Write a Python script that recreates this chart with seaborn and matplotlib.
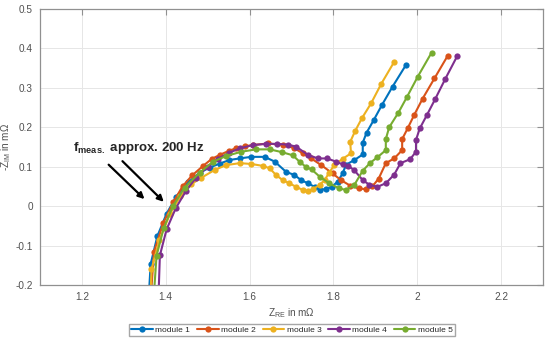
import numpy as np
import pandas as pd
import matplotlib
matplotlib.use("Agg")
import matplotlib.pyplot as plt
import seaborn as sns

# Nyquist data (Z_RE, -Z_IM in mOhm)
m1_re = [1.360, 1.364, 1.380, 1.402, 1.425, 1.453, 1.481, 1.505, 1.529, 1.552, 1.576, 1.604,
         1.636, 1.660, 1.687, 1.707, 1.723, 1.739, 1.755, 1.767, 1.782, 1.796, 1.810, 1.822,
         1.830, 1.850, 1.870, 1.870, 1.879, 1.896, 1.916, 1.941, 1.973]
m1_im = [-0.220, -0.147, -0.076, -0.019, 0.024, 0.060, 0.085, 0.098, 0.108, 0.117, 0.121, 0.125,
         0.125, 0.113, 0.087, 0.079, 0.066, 0.058, 0.049, 0.042, 0.043, 0.049, 0.062, 0.083,
         0.105, 0.117, 0.131, 0.161, 0.186, 0.218, 0.257, 0.303, 0.358]

m2_re = [1.365, 1.372, 1.394, 1.418, 1.440, 1.463, 1.489, 1.510, 1.529, 1.550, 1.568, 1.590,
         1.608, 1.644, 1.679, 1.705, 1.727, 1.747, 1.771, 1.798, 1.818, 1.840, 1.860, 1.877,
         1.893, 1.908, 1.925, 1.945, 1.964, 1.964, 1.977, 1.993, 2.013, 2.041, 2.073]
m2_im = [-0.220, -0.116, -0.043, 0.010, 0.050, 0.078, 0.102, 0.120, 0.130, 0.140, 0.147, 0.152,
         0.155, 0.159, 0.155, 0.148, 0.134, 0.121, 0.104, 0.083, 0.066, 0.052, 0.045, 0.043,
         0.050, 0.070, 0.109, 0.121, 0.142, 0.170, 0.197, 0.232, 0.273, 0.324, 0.382]

m3_re = [1.364, 1.366, 1.385, 1.410, 1.435, 1.460, 1.485, 1.517, 1.544, 1.576, 1.604, 1.632,
         1.648, 1.663, 1.679, 1.695, 1.711, 1.727, 1.739, 1.751, 1.767, 1.779, 1.790, 1.802,
         1.822, 1.842, 1.840, 1.852, 1.868, 1.890, 1.914, 1.945]
m3_im = [-0.220, -0.160, -0.085, -0.020, 0.025, 0.055, 0.072, 0.092, 0.104, 0.109, 0.107, 0.102,
         0.096, 0.079, 0.066, 0.058, 0.049, 0.041, 0.038, 0.043, 0.054, 0.066, 0.085, 0.104,
         0.120, 0.134, 0.163, 0.191, 0.223, 0.261, 0.310, 0.366]

m4_re = [1.383, 1.386, 1.402, 1.424, 1.448, 1.472, 1.500, 1.525, 1.550, 1.578, 1.608, 1.640,
         1.665, 1.691, 1.711, 1.739, 1.763, 1.785, 1.806, 1.822, 1.834, 1.849, 1.870, 1.886,
         1.905, 1.925, 1.945, 1.960, 1.983, 1.997, 1.997, 2.006, 2.023, 2.043, 2.067, 2.096]
m4_im = [-0.220, -0.125, -0.059, -0.005, 0.038, 0.072, 0.100, 0.120, 0.135, 0.147, 0.155, 0.158,
         0.158, 0.156, 0.151, 0.130, 0.121, 0.121, 0.113, 0.106, 0.103, 0.092, 0.066, 0.054,
         0.049, 0.058, 0.080, 0.109, 0.119, 0.138, 0.168, 0.197, 0.231, 0.272, 0.323, 0.382]

m5_re = [1.372, 1.378, 1.395, 1.417, 1.445, 1.481, 1.513, 1.544, 1.580, 1.616, 1.648, 1.677,
         1.703, 1.720, 1.735, 1.748, 1.767, 1.790, 1.814, 1.830, 1.850, 1.870, 1.888, 1.905,
         1.925, 1.925, 1.933, 1.955, 1.975, 2.001, 2.034]
m5_im = [-0.220, -0.126, -0.056, 0.000, 0.047, 0.085, 0.113, 0.127, 0.138, 0.144, 0.144, 0.137,
         0.129, 0.112, 0.099, 0.093, 0.075, 0.058, 0.045, 0.041, 0.054, 0.090, 0.110, 0.124,
         0.142, 0.170, 0.200, 0.237, 0.276, 0.328, 0.389]

names = ["module 1", "module 2", "module 3", "module 4", "module 5"]
colors = ["#0072BD", "#D95319", "#EDB120", "#7E2F8E", "#77AC30"]

frames = []
for name, re, im in zip(names, [m1_re, m2_re, m3_re, m4_re, m5_re],
                        [m1_im, m2_im, m3_im, m4_im, m5_im]):
    frames.append(pd.DataFrame({"re": re, "im": im, "module": name, "step": range(len(re))}))
df = pd.concat(frames, ignore_index=True)

sns.set_style("white")
plt.rcParams["font.family"] = ["Liberation Sans", "DejaVu Sans"]
plt.rcParams["mathtext.fontset"] = "custom"
plt.rcParams["mathtext.rm"] = "Liberation Sans"
plt.rcParams["mathtext.bf"] = "Liberation Sans:bold"

fig = plt.figure(figsize=(5.5, 3.42), dpi=100)
ax = fig.add_axes([40 / 550, 1 - 285 / 342, 503 / 550, 276 / 342])

sns.lineplot(data=df, x="re", y="im", hue="module", palette=colors, sort=False,
             estimator=None, units="module", marker="o", markersize=4.5,
             markeredgewidth=0, linewidth=1.5, ax=ax, legend=True)

ax.set_xlim(1.1, 2.3)
ax.set_ylim(-0.2, 0.5)
ax.set_xticks([1.2, 1.4, 1.6, 1.8, 2.0, 2.2])
ax.set_xticklabels(["1.2", "1.4", "1.6", "1.8", "2", "2.2"])
ax.set_yticks([-0.2, -0.1, 0, 0.1, 0.2, 0.3, 0.4, 0.5])
ax.set_yticklabels(["-0.2", "-0.1", "0", "0.1", "0.2", "0.3", "0.4", "0.5"])
ax.grid(True, color="#e6e6e6", linewidth=0.7)
ax.set_axisbelow(True)
for s in ax.spines.values():
    s.set_color("#909090")
    s.set_linewidth(0.9)
ax.tick_params(direction="in", top=True, right=True, length=4, width=0.8,
               color="#909090", labelsize=7.2, labelcolor="#505050", pad=5)

ax.set_xlabel(r"Z$_{\rm RE}$ in m$\Omega$", fontsize=7.2, color="#505050", labelpad=3)
ax.set_ylabel(r"-Z$_{\rm IM}$ in m$\Omega$", fontsize=7.2, color="#505050", labelpad=3)
ax.yaxis.set_label_coords(-0.053, 0.5)

ax.text(1.179, 0.147, r"f$_{\mathbf{meas.}}$ approx. 200 Hz", fontsize=9.5,
        fontweight="bold", va="center", ha="left")
ax.annotate("", xy=(1.354, 0.013), xytext=(1.259, 0.110),
            arrowprops=dict(arrowstyle="-|>", color="black", lw=1.6, mutation_scale=9))
ax.annotate("", xy=(1.400, 0.006), xytext=(1.292, 0.119),
            arrowprops=dict(arrowstyle="-|>", color="black", lw=1.6, mutation_scale=9))

handles, labels = ax.get_legend_handles_labels()
ax.legend(handles, labels, loc="center", bbox_to_anchor=(292 / 550, 1 - 330 / 342),
          bbox_transform=fig.transFigure, ncol=5, fontsize=6, frameon=True,
          fancybox=False, edgecolor="#909090", handlelength=2.6, columnspacing=0.8,
          handletextpad=0.3, borderpad=0.3, borderaxespad=0)

fig.savefig("out.png", dpi=100)
